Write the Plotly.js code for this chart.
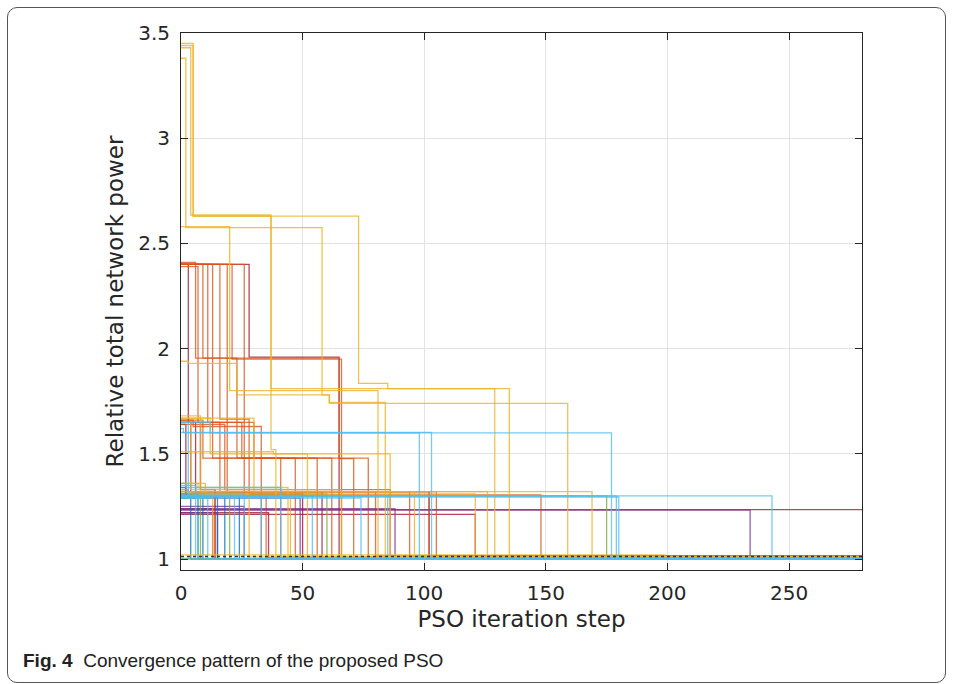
<!DOCTYPE html>
<html>
<head>
<meta charset="utf-8">
<script src="https://cdn.plot.ly/plotly-3.0.1.min.js"></script>
<style>
  html, body { margin: 0; padding: 0; background: #fff; overflow: hidden; }
  #chart { width: 953px; height: 684px; }
  #frame { position: absolute; left: 7px; top: 7px; width: 937px; height: 674px;
           border: 1.3px solid #555; border-radius: 10px; pointer-events: none; }
</style>
</head>
<body>
<div id="chart"></div>
<div id="frame"></div>
<script>
// ---- data: each run = iteration where a level starts, and the level value ----
const lastIter = 280;

const yellowX = [
  [0, 5, 73, 85, 135], [0, 4, 37, 129], [0, 2, 58, 61, 159], [0, 20, 81],
  [0, 3, 23, 61, 84], [0, 8, 169], [0, 12, 52], [0, 199],
  [0, 3, 28], [0, 126], [0, 10, 121], [0, 7, 44],
  [0, 30, 96], [0, 45], [0, 4, 66], [0, 6, 13], [0, 38, 86], [0, 5, 37, 39]
];
const yellowY = [
  [3.45, 2.63, 1.835, 1.81, 1.008], [3.43, 2.635, 1.81, 1.012], [3.38, 2.575, 1.78, 1.74, 1.01], [2.58, 1.80, 1.01],
  [1.94, 1.93, 1.78, 1.745, 1.012], [1.68, 1.32, 1.01], [1.67, 1.50, 1.012], [1.02, 1.005],
  [1.33, 1.31, 1.01], [1.32, 1.008], [1.36, 1.31, 1.01], [1.36, 1.34, 1.01],
  [1.67, 1.32, 1.01], [1.30, 1.0], [1.65, 1.33, 1.01], [1.30, 1.29, 1.0], [1.51, 1.50, 1.01], [3.44, 2.63, 1.52, 1.01]
];

const orangeX = [
  [0, 6, 65, 71], [0, 9, 23, 41], [0, 11, 30, 77], [0, 13, 47],
  [0, 16, 28, 148], [0, 26, 35], [0, 19, 102], [0, 7, 16, 94],
  [0, 25, 62], [0, 9, 56], [0, 3, 105], [0, 80],
  [0, 18, 86], [0, 4, 14], [0, 21, 66], [0, 5, 33]
];
const orangeY = [
  [2.41, 1.955, 1.477, 1.01], [2.40, 1.955, 1.48, 1.01], [2.40, 1.65, 1.48, 1.01], [2.40, 1.48, 1.012],
  [2.40, 1.665, 1.305, 1.01], [2.40, 1.30, 1.005], [2.40, 1.32, 1.01], [2.39, 1.65, 1.32, 1.01],
  [1.65, 1.48, 1.01], [1.66, 1.48, 1.01], [1.33, 1.32, 1.015], [1.32, 1.015],
  [1.64, 1.33, 1.01], [1.31, 1.30, 1.0], [2.40, 1.95, 1.01], [1.66, 1.63, 1.0]
];

const redX = [[0], [0, 121], [0, 13], [0, 3, 8, 14], [0, 4, 102], [0, 6, 58], [0, 36], [0, 2, 50], [0, 28, 65]];
const redY = [[1.235], [1.212, 1.01], [1.24, 1.0], [2.40, 1.65, 1.33, 1.0], [1.65, 1.32, 1.01], [1.65, 1.32, 1.0], [1.22, 1.0], [1.64, 1.31, 1.0], [2.40, 1.96, 1.01]];

const purpleX = [[0, 234], [0, 26], [0, 49], [0, 88], [0, 15]];
const purpleY = [[1.233, 1.005], [1.25, 1.0], [1.29, 1.0], [1.24, 1.003], [1.22, 1.0]];

const greenX = [[0, 175], [0, 8], [0], [0, 20], [0, 60]];
const greenY = [[1.30, 1.005], [1.29, 1.0], [1.003], [1.32, 1.0], [1.31, 1.0]];

const lightBlueX = [
  [0, 1, 177], [0, 12, 98], [0, 103], [0, 243], [0, 179], [0, 180], [0, 11],
  [0, 26], [0, 33], [0, 3, 22], [0], [0, 74], [0, 6], [0, 2, 41], [0, 54], [0, 85]
];
const lightBlueY = [
  [1.62, 1.60, 1.005], [1.65, 1.60, 1.005], [1.602, 1.003], [1.30, 1.0], [1.30, 1.0], [1.295, 1.002], [1.29, 1.0],
  [1.31, 1.0], [1.30, 1.0], [1.65, 1.30, 1.0], [1.0], [1.29, 1.0], [1.35, 1.0], [1.36, 1.34, 1.0], [1.30, 1.0], [1.30, 1.0]
];

const blueX = [[0, 4], [0, 7], [0, 9], [0, 15], [0, 2, 18], [0, 24]];
const blueY = [[1.30, 1.0], [1.31, 1.0], [1.29, 1.0], [1.295, 1.0], [1.34, 1.30, 1.0], [1.30, 1.0]];

const optimumLevel = 1.012;

const xTicks = [0, 50, 100, 150, 200, 250];
const yTicks = [1, 1.5, 2, 2.5, 3, 3.5];

// ---- build traces (draw order: later groups on top) ----
const groups = [
  [redX, redY, '#A2142F'],
  [orangeX, orangeY, '#D95319'],
  [purpleX, purpleY, '#7E2F8E'],
  [blueX, blueY, '#0072BD'],
  [greenX, greenY, '#77AC30'],
  [yellowX, yellowY, '#EDB120'],
  [lightBlueX, lightBlueY, '#4DBEEE']
];
const traces = [];
groups.forEach(([xs, ys, col]) => {
  xs.forEach((xr, i) => {
    const yr = ys[i];
    traces.push({
      type: 'scatter', mode: 'lines',
      x: xr.concat([lastIter]), y: yr.concat([yr[yr.length - 1]]),
      line: { color: col, width: 1.3, shape: 'hv' },
      opacity: 0.78, hoverinfo: 'skip', showlegend: false
    });
  });
});
traces.push({
  type: 'scatter', mode: 'lines', x: [0, lastIter], y: [optimumLevel, optimumLevel],
  line: { color: '#333', width: 1.5, dash: 'dot' }, hoverinfo: 'skip', showlegend: false
});

const font = 'DejaVu Sans, sans-serif';
const l = 181, r = 91, t = 33, b = 114;
const pw = 953 - l - r, ph = 684 - t - b;

const layout = {
  width: 953, height: 684,
  margin: { l: l, r: r, t: t, b: b },
  paper_bgcolor: '#fff', plot_bgcolor: '#fff',
  font: { family: font, color: '#262626' },
  xaxis: {
    range: [0, lastIter], tickvals: xTicks, ticktext: xTicks.map(String),
    ticks: 'inside', ticklen: 7, tickcolor: '#262626', tickwidth: 1,
    showline: true, linecolor: '#262626', linewidth: 1, mirror: 'ticks',
    showgrid: true, gridcolor: '#e3e3e3', zeroline: false,
    tickfont: { size: 20, family: font, color: '#262626' },
    ticklabelstandoff: 5,
    title: { text: 'PSO iteration step', font: { size: 23, family: font, color: '#262626' }, standoff: 6 }
  },
  yaxis: {
    range: [0.948, 3.5], tickvals: yTicks, ticktext: yTicks.map(String),
    ticks: 'inside', ticklen: 7, tickcolor: '#262626', tickwidth: 1,
    showline: true, linecolor: '#262626', linewidth: 1, mirror: 'ticks',
    showgrid: true, gridcolor: '#e3e3e3', zeroline: false,
    tickfont: { size: 20, family: font, color: '#262626' },
    ticklabelstandoff: 6,
    title: { text: 'Relative total network power', font: { size: 23, family: font, color: '#262626' }, standoff: 8 }
  },
  annotations: [{
    xref: 'paper', yref: 'paper',
    x: (21 - l) / pw, y: (684 - b - 661) / ph,
    xanchor: 'left', yanchor: 'middle', showarrow: false,
    text: '<b>Fig. 4</b>  Convergence pattern of the proposed PSO',
    font: { size: 19, family: 'Liberation Sans Narrow, Liberation Sans, Arial, sans-serif', color: '#222' }
  }]
};

Plotly.newPlot('chart', traces, layout, { staticPlot: true, displayModeBar: false });
</script>
</body>
</html>
